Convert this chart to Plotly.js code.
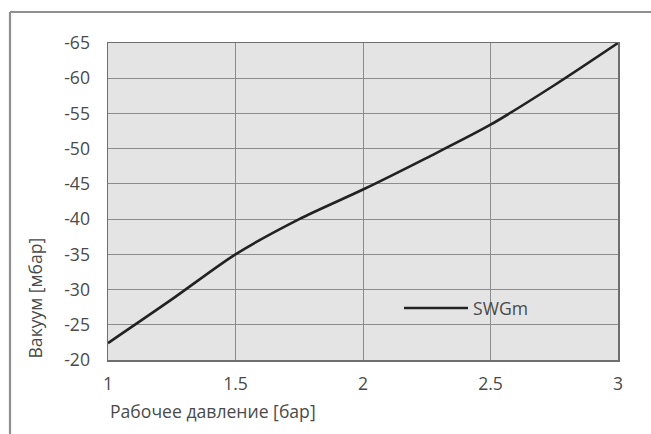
<!DOCTYPE html>
<html>
<head>
<meta charset="utf-8">
<script src="https://cdn.plot.ly/plotly-3.0.1.min.js"></script>
<style>
html,body{margin:0;padding:0;background:#fff;}
#chart{width:651px;height:434px;}
</style>
</head>
<body>
<div id="chart"></div>
<script>
// Data
const pressure = [1.0, 1.25, 1.5, 1.75, 2.0, 2.25, 2.5, 2.75, 3.0];
const vacuum = [-22.4, -28.6, -35.0, -40.0, -44.2, -48.7, -53.4, -59.0, -65.0];
const seriesName = 'SWGm';
const xTickVals = [1, 1.5, 2, 2.5, 3];
const xTickText = ['1', '1.5', '2', '2.5', '3'];
const yTickVals = [-65, -60, -55, -50, -45, -40, -35, -30, -25, -20];
const yTickText = ['-65', '-60', '-55', '-50', '-45', '-40', '-35', '-30', '-25', '-20'];
const xTitle = 'Рабочее давление [бар]';
const yTitle = 'Вакуум [мбар]';

const W = 651, H = 434;
const L = 108, R = 33, T = 43, B = 74;
const pw = W - L - R, ph = H - T - B;
const px = v => (v - L) / pw;           // pixel -> paper x
const py = v => (H - B - v) / ph;       // pixel -> paper y

const FONT = 'Open Sans, sans-serif';
const FS = 17.6;
const TXT = '#4a4a4a';

const trace = {
  x: pressure, y: vacuum, name: seriesName,
  type: 'scatter', mode: 'lines',
  line: {color: '#222222', width: 2.6, shape: 'spline', smoothing: 0.8},
  showlegend: true
};

const layout = {
  width: W, height: H,
  margin: {l: L, r: R, t: T, b: B, pad: 0},
  paper_bgcolor: '#ffffff',
  plot_bgcolor: '#e4e4e4',
  font: {family: FONT, size: FS, color: TXT},
  xaxis: {
    range: [1, 3], tickvals: xTickVals, ticktext: xTickText,
    showgrid: true, gridcolor: '#8c8c8c', gridwidth: 1,
    zeroline: false, showline: true, linecolor: '#6e6e6e', linewidth: 1.5, mirror: true,
    ticks: '', ticklabelstandoff: 7,
    tickfont: {family: FONT, size: FS, color: TXT}
  },
  yaxis: {
    range: [-20, -65], tickvals: yTickVals, ticktext: yTickText,
    showgrid: true, gridcolor: '#8c8c8c', gridwidth: 1,
    zeroline: false, showline: true, linecolor: '#6e6e6e', linewidth: 1.5, mirror: true,
    ticks: '', ticklabelstandoff: 13,
    tickfont: {family: FONT, size: FS, color: TXT}
  },
  showlegend: true,
  legend: {
    x: px(399), y: py(308), xanchor: 'left', yanchor: 'middle',
    itemwidth: 64,
    bgcolor: 'rgba(0,0,0,0)', borderwidth: 0,
    font: {family: FONT, size: FS, color: TXT}
  },
  annotations: [
    {text: xTitle, xref: 'paper', yref: 'paper', x: 0, y: py(411), xanchor: 'left', yanchor: 'middle',
     showarrow: false, font: {family: FONT, size: FS, color: TXT}},
    {text: yTitle, xref: 'paper', yref: 'paper', x: px(34), y: py(361), xanchor: 'center', yanchor: 'bottom',
     textangle: -90, showarrow: false, font: {family: FONT, size: FS, color: TXT}}
  ],
  shapes: [
    {type: 'line', xref: 'paper', yref: 'paper', x0: px(10), x1: px(660), y0: py(12), y1: py(12),
     line: {color: '#8f8f8f', width: 2.2}},
    {type: 'line', xref: 'paper', yref: 'paper', x0: px(10), x1: px(10), y0: py(12), y1: py(440),
     line: {color: '#8f8f8f', width: 2.2}}
  ]
};

Plotly.newPlot('chart', [trace], layout, {staticPlot: true, displayModeBar: false});
</script>
</body>
</html>
